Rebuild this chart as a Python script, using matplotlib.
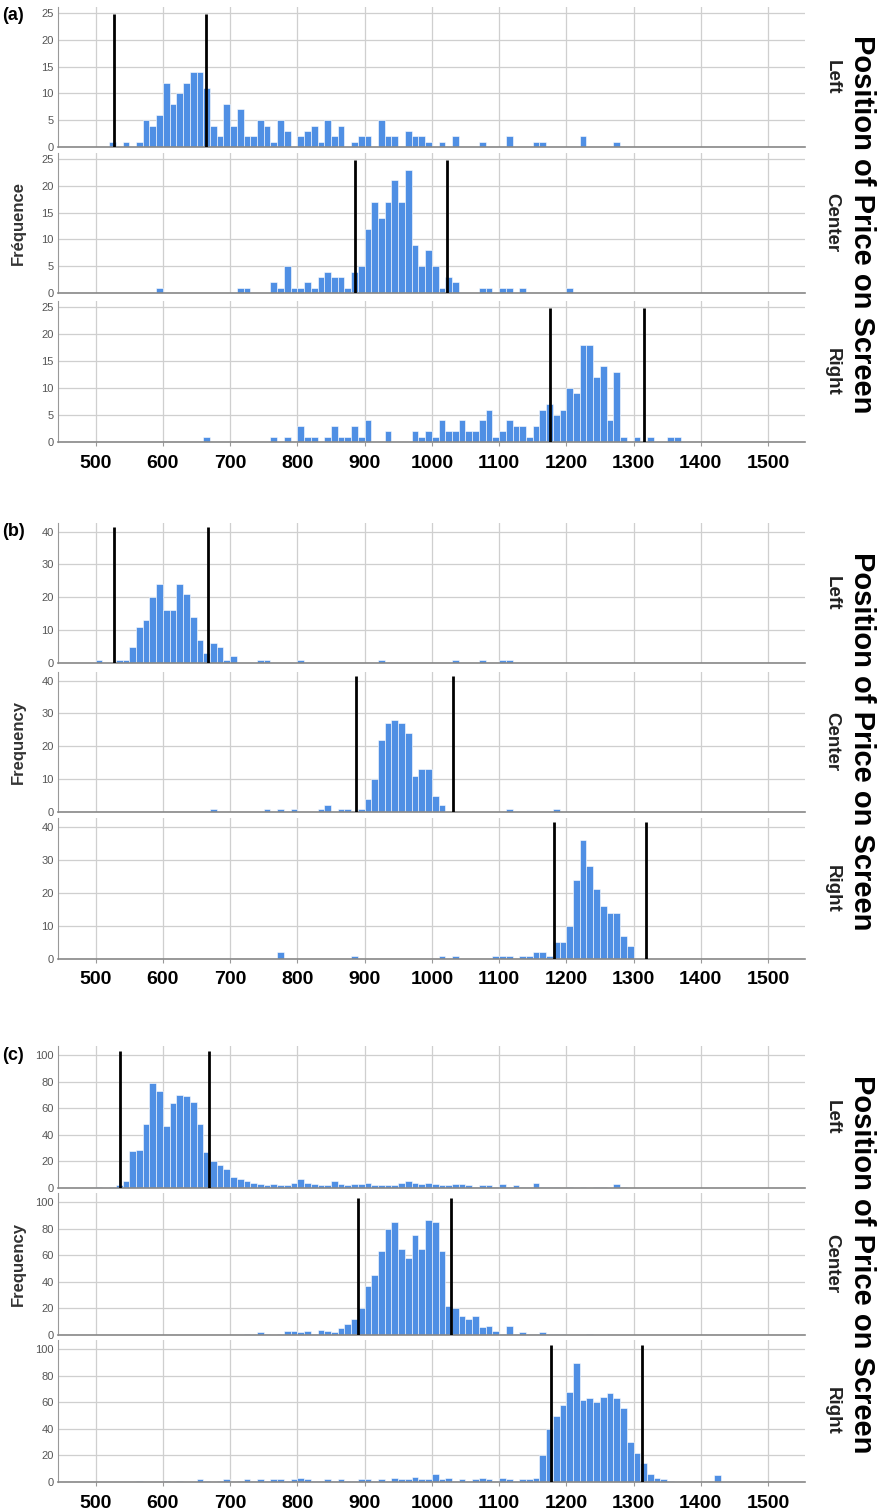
import matplotlib.pyplot as plt
import numpy as np

plt.rcParams['font.family'] = ['Liberation Sans', 'DejaVu Sans']

W, H = 878, 1511
BIN = 10
BAR_COLOR = '#4f8fe4'

# ---- panel (a) ----
a_left_start = 520
a_left = [1, 0, 1, 0, 1, 5, 4, 6, 12, 8, 10, 12, 14, 14, 11, 4, 2, 8, 4, 7,
          2, 2, 5, 4, 1, 5, 3, 0, 2, 3, 4, 1, 5, 2, 4, 0, 1, 2, 2, 0,
          5, 2, 2, 0, 3, 2, 2, 1, 0, 1, 0, 2, 0, 0, 0, 1, 0, 0, 0, 2,
          0, 0, 0, 1, 1, 0, 0, 0, 0, 0, 2, 0, 0, 0, 0, 1]
a_center_start = 590
a_center = [1, 0, 0, 0, 0, 0, 0, 0, 0, 0, 0, 0, 1, 1, 0, 0, 0, 2, 1, 5,
            1, 1, 2, 1, 3, 4, 3, 3, 1, 4, 5, 12, 17, 14, 17, 21, 17, 23, 9, 5,
            8, 5, 1, 3, 2, 0, 0, 0, 1, 1, 0, 1, 1, 0, 1, 0, 0, 0, 0, 0,
            0, 1]
a_right_start = 660
a_right = [1, 0, 0, 0, 0, 0, 0, 0, 0, 0, 1, 0, 1, 0, 3, 1, 1, 0, 1, 3,
           1, 1, 3, 1, 4, 0, 0, 2, 0, 0, 0, 2, 1, 2, 1, 4, 2, 2, 4, 2,
           2, 4, 6, 1, 2, 4, 3, 3, 1, 3, 6, 7, 5, 6, 10, 9, 18, 18, 12, 14,
           4, 13, 1, 0, 1, 0, 1, 0, 0, 1, 1]
a_lines = [[527, 664], [885, 1022], [1176, 1315]]

# ---- panel (b) ----
b_left_start = 500
b_left = [1, 0, 0, 1, 1, 5, 11, 13, 20, 24, 16, 16, 24, 21, 14, 7, 3, 6, 5, 1,
          2, 0, 0, 0, 1, 1, 0, 0, 0, 0, 1, 0, 0, 0, 0, 0, 0, 0, 0, 0,
          0, 0, 1, 0, 0, 0, 0, 0, 0, 0, 0, 0, 0, 1, 0, 0, 0, 1, 0, 0,
          1, 1]
b_center_start = 670
b_center = [1, 0, 0, 0, 0, 0, 0, 0, 1, 0, 1, 0, 1, 0, 0, 0, 1, 2, 0, 1,
            1, 0, 1, 4, 10, 22, 27, 28, 27, 24, 11, 13, 13, 5, 2, 0, 0, 0, 0, 0,
            0, 0, 0, 0, 1, 0, 0, 0, 0, 0, 0, 1]
b_right_start = 770
b_right = [2, 0, 0, 0, 0, 0, 0, 0, 0, 0, 0, 1, 0, 0, 0, 0, 0, 0, 0, 0,
           0, 0, 0, 0, 1, 0, 1, 0, 0, 0, 0, 0, 1, 1, 1, 0, 1, 1, 2, 2,
           1, 5, 5, 10, 24, 36, 28, 21, 16, 14, 14, 7, 4]
b_lines = [[528, 667], [887, 1031], [1182, 1319]]

# ---- panel (c) ----
c_left_start = 500
c_left = [1, 0, 1, 2, 5, 28, 29, 48, 79, 73, 47, 64, 70, 69, 65, 48, 27, 20, 17, 14,
          8, 7, 5, 4, 3, 2, 3, 2, 2, 4, 7, 4, 3, 2, 2, 5, 3, 2, 3, 3,
          4, 2, 2, 2, 2, 4, 5, 4, 3, 4, 3, 2, 2, 3, 3, 2, 1, 2, 2, 1,
          3, 1, 2, 1, 1, 4, 1, 1, 1, 0, 1, 0, 1, 0, 1, 1, 0, 3, 1]
c_center_start = 720
c_center = [1, 0, 2, 1, 0, 1, 3, 3, 2, 3, 1, 4, 3, 2, 5, 8, 12, 20, 37, 45,
            63, 80, 85, 65, 58, 75, 65, 87, 85, 63, 22, 20, 14, 12, 14, 6, 7, 3, 1, 7,
            1, 2, 1, 1, 2, 1, 1, 1, 0, 0, 0, 1]
c_right_start = 560
c_right = [1, 0, 0, 0, 1, 0, 1, 0, 0, 2, 1, 0, 1, 2, 0, 1, 2, 1, 2, 1,
           2, 2, 1, 2, 3, 2, 1, 1, 2, 1, 2, 1, 1, 2, 2, 1, 2, 1, 3, 2,
           2, 4, 2, 2, 6, 2, 3, 1, 2, 1, 2, 3, 2, 1, 3, 2, 1, 2, 2, 3,
           20, 40, 50, 58, 68, 90, 62, 63, 60, 64, 67, 63, 56, 30, 22, 14, 6, 3, 2, 1,
           0, 0, 0, 0, 0, 0, 5]
c_lines = [[536, 668], [890, 1028], [1177, 1312]]

x_ticks = [500, 600, 700, 800, 900, 1000, 1100, 1200, 1300, 1400, 1500]
row_names = ['Left', 'Center', 'Right']

panels = [
    dict(tag='(a)', ylabel='Fréquence', yticks=[0, 5, 10, 15, 20, 25], ytop=26.1,
         linetop=24.8, rows=[(7, 147), (153, 293), (301, 442)],
         data=[(a_left_start, a_left), (a_center_start, a_center), (a_right_start, a_right)],
         lines=a_lines),
    dict(tag='(b)', ylabel='Frequency', yticks=[0, 10, 20, 30, 40], ytop=42.6,
         linetop=41.5, rows=[(523, 663), (672, 812), (818, 959)],
         data=[(b_left_start, b_left), (b_center_start, b_center), (b_right_start, b_right)],
         lines=b_lines),
    dict(tag='(c)', ylabel='Frequency', yticks=[0, 20, 40, 60, 80, 100], ytop=107,
         linetop=103, rows=[(1046, 1188), (1193, 1335), (1340, 1482)],
         data=[(c_left_start, c_left), (c_center_start, c_center), (c_right_start, c_right)],
         lines=c_lines),
]

fig = plt.figure(figsize=(W / 100, H / 100), dpi=100)
x0, x1 = 58, 805

for p in panels:
    for i, (y0, y1) in enumerate(p['rows']):
        ax = fig.add_axes([x0 / W, 1 - y1 / H, (x1 - x0) / W, (y1 - y0) / H])
        start, counts = p['data'][i]
        edges = start + BIN * np.arange(len(counts))
        ax.bar(edges, counts, width=BIN, align='edge', color=BAR_COLOR,
               edgecolor='white', linewidth=0.4, zorder=2)
        for lx in p['lines'][i]:
            ax.vlines(lx, 0, p['linetop'], color='black', linewidth=2, zorder=3)
        ax.set_xlim(444, 1555)
        ax.set_ylim(0, p['ytop'])
        ax.set_xticks(x_ticks)
        ax.set_yticks(p['yticks'])
        ax.grid(True, color='#cfcfcf', linewidth=0.9, zorder=0)
        ax.set_axisbelow(True)
        for s in ['top', 'right']:
            ax.spines[s].set_visible(False)
        ax.spines['left'].set_color('#999999')
        ax.spines['bottom'].set_color('#888888')
        ax.spines['bottom'].set_linewidth(1.2)
        ax.tick_params(axis='y', length=0, labelsize=8, labelcolor='#555555', pad=3)
        if i == 2:
            ax.tick_params(axis='x', length=3, color='#999999', labelsize=14, pad=6)
            for t in ax.get_xticklabels():
                t.set_fontweight('bold')
        else:
            ax.tick_params(axis='x', length=0, labelbottom=False)
        yc = (y0 + y1) / 2
        fig.text(832 / W, 1 - yc / H, row_names[i], rotation=-90, ha='center',
                 va='center', fontsize=13.5, fontweight='bold', color='#222222')

    top = p['rows'][0][0]
    bot = p['rows'][2][1]
    mid = (top + bot) / 2
    fig.text(2 / W, 1 - (top + 9) / H, p['tag'], ha='left', va='center',
             fontsize=13, fontweight='bold')
    yc = sum(p['rows'][1]) / 2
    fig.text(18 / W, 1 - yc / H, p['ylabel'], rotation=90, ha='center', va='center',
             fontsize=12, fontweight='bold', color='#333333')
    fig.text(862 / W, 1 - mid / H, 'Position of Price on Screen', rotation=-90,
             ha='center', va='center', fontsize=21, fontweight='bold')

fig.savefig('out.png', dpi=100)
